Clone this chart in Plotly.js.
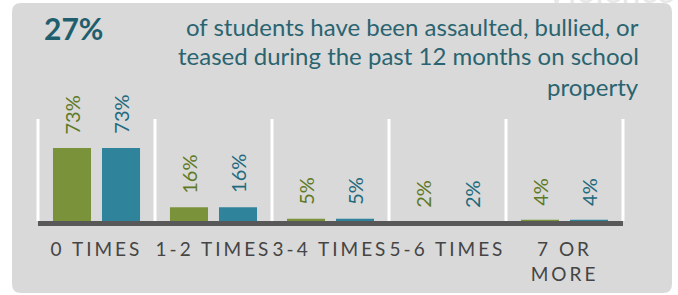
<!DOCTYPE html>
<html>
<head>
<meta charset="utf-8">
<script src="https://cdn.plot.ly/plotly-3.0.1.min.js"></script>
<style>
  html, body { margin: 0; padding: 0; background: #ffffff; }
  #chart { width: 678px; height: 295px; }
  .xtick text { letter-spacing: 3px; }
</style>
</head>
<body>
<div id="chart"></div>
<script>
// ---- Data ----
const categories = ["0 TIMES", "1-2 TIMES", "3-4 TIMES", "5-6 TIMES", "7 OR<br>MORE"];
const seriesA = [73, 16, 5, 2, 4];   // green
const seriesB = [73, 16, 5, 2, 4];   // blue
const seriesNames = ["Group A", "Group B"];
const headlineValue = "27%";
const headlineText = [
  "of students have been assaulted, bullied, or",
  "teased during the past 12 months on school",
  "property"
];
const watermark = "Violence";

// ---- Layout geometry (pixels) ----
const W = 678, H = 295;
const L = 38, R = 55, T = 119, B = 71;
const PW = W - L - R, PH = H - T - B;
const px2x = p => (p - L) / PW;
const py2y = p => (H - B - p) / PH;

const green = "#7a933b", blue = "#2f849c";
const greenText = "#5f7a26", blueText = "#226a7e";
const idx = categories.map((c, i) => i);

const traces = [
  { type: "bar", x: idx, y: seriesA, name: seriesNames[0],
    marker: { color: green, line: { width: 0 } }, hoverinfo: "none" },
  { type: "bar", x: idx, y: seriesB, name: seriesNames[1],
    marker: { color: blue, line: { width: 0 } }, hoverinfo: "none" }
];

// Bar value labels
const annotations = [];
const off = 0.21; // bar offset in category units
seriesA.forEach((v, i) => annotations.push({
  x: i - off, y: v, xref: "x", yref: "y", text: v + "%", showarrow: false,
  textangle: -90, yanchor: "bottom", xanchor: "center", yshift: 12,
  font: { family: "Lato, sans-serif", size: 20, color: greenText }
}));
seriesB.forEach((v, i) => annotations.push({
  x: i + off, y: v, xref: "x", yref: "y", text: v + "%", showarrow: false,
  textangle: -90, yanchor: "bottom", xanchor: "center", yshift: 12,
  font: { family: "Lato, sans-serif", size: 20, color: blueText }
}));

// Headline
annotations.push({
  xref: "paper", yref: "paper", x: px2x(42), y: py2y(28), xanchor: "left", yanchor: "middle",
  text: "<b>" + headlineValue + "</b>", showarrow: false,
  font: { family: "Lato, sans-serif", size: 30, color: "#1f5f6d" }
});
const lineY = [26, 56, 86];
headlineText.forEach((t, i) => annotations.push({
  xref: "paper", yref: "paper", x: px2x(641), y: py2y(lineY[i]), xanchor: "right", yanchor: "middle",
  text: t, showarrow: false,
  font: { family: "Lato, sans-serif", size: 24, color: "#2a6470" }
}));
// Faded watermark word, mostly cut off at top
annotations.push({
  xref: "paper", yref: "paper", x: px2x(676), y: py2y(12), xanchor: "right", yanchor: "bottom",
  text: watermark, showarrow: false,
  font: { family: "Lato, sans-serif", size: 34, color: "#e8e8e8" }
});

// Shapes: rounded panel, separators, baseline
const x0 = px2x(12), x1 = px2x(672), y0 = py2y(293), y1 = py2y(3);
const rx = 9 / PW, ry = 9 / PH;
const panelPath =
  `M ${x0 + rx},${y1} L ${x1 - rx},${y1} Q ${x1},${y1} ${x1},${y1 - ry} ` +
  `L ${x1},${y0 + ry} Q ${x1},${y0} ${x1 - rx},${y0} ` +
  `L ${x0 + rx},${y0} Q ${x0},${y0} ${x0},${y0 + ry} ` +
  `L ${x0},${y1 - ry} Q ${x0},${y1} ${x0 + rx},${y1} Z`;
const shapes = [
  { type: "path", xref: "paper", yref: "paper", path: panelPath,
    fillcolor: "#d9d9d9", line: { width: 0 }, layer: "below" }
];
for (let k = 0; k <= categories.length; k++) {
  const xp = px2x(L + k * PW / categories.length);
  shapes.push({ type: "line", xref: "paper", yref: "paper",
    x0: xp, x1: xp, y0: py2y(221), y1: 1,
    line: { color: "#ffffff", width: 3 }, layer: "below" });
}
shapes.push({ type: "line", xref: "paper", yref: "paper",
  x0: 0, x1: 1, y0: py2y(223.5), y1: py2y(223.5),
  line: { color: "#585858", width: 5 }, layer: "above" });

const layout = {
  width: W, height: H,
  margin: { l: L, r: R, t: T, b: B, pad: 0 },
  paper_bgcolor: "#ffffff",
  plot_bgcolor: "rgba(0,0,0,0)",
  showlegend: false,
  barmode: "group",
  bargap: 0.162,
  bargroupgap: 0.224,
  xaxis: {
    range: [-0.5, categories.length - 0.5],
    tickmode: "array", tickvals: idx, ticktext: categories,
    showgrid: false, zeroline: false, showline: false, ticks: "",
    ticklabelstandoff: 12,
    tickfont: { family: "Lato, sans-serif", size: 19, color: "#454545" },
    fixedrange: true
  },
  yaxis: {
    range: [0, PH / 1.04],
    showgrid: false, zeroline: false, showline: false, showticklabels: false, ticks: "",
    fixedrange: true
  },
  shapes: shapes,
  annotations: annotations,
  font: { family: "Lato, sans-serif" }
};

Plotly.newPlot("chart", traces, layout, { displayModeBar: false, staticPlot: true });
</script>
</body>
</html>
